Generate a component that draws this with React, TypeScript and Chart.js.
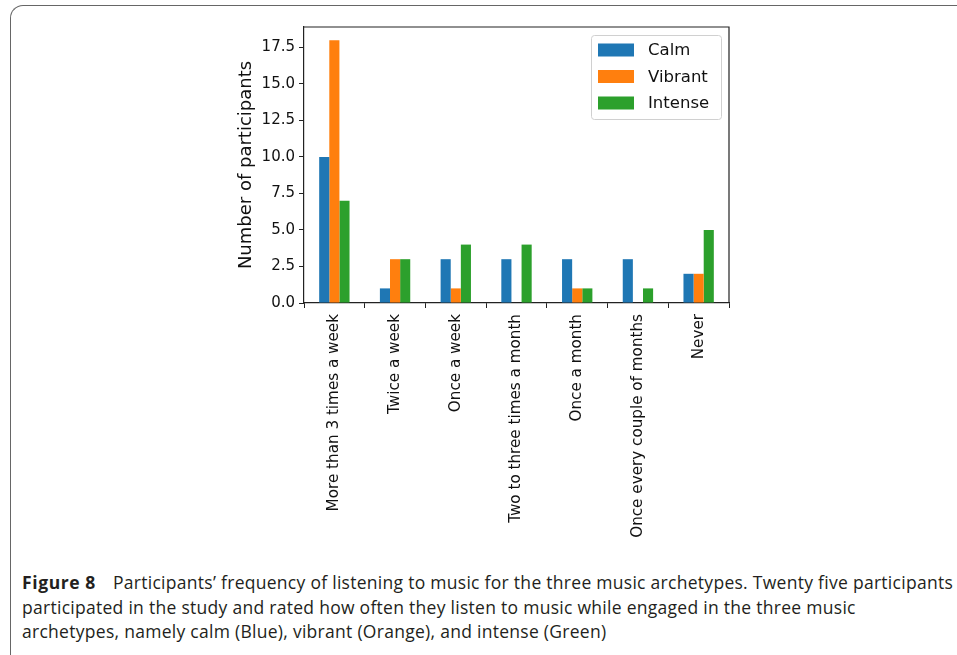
import React, { useEffect, useRef } from "react";
import { Chart, registerables } from "chart.js";

Chart.register(...registerables);

const CATEGORIES = [
  "More than 3 times a week",
  "Twice a week",
  "Once a week",
  "Two to three times a month",
  "Once a month",
  "Once every couple of months",
  "Never",
];
const CALM = [10, 1, 3, 3, 3, 3, 2];
const VIBRANT = [18, 3, 1, 0, 1, 0, 2];
const INTENSE = [7, 3, 4, 4, 1, 1, 5];
const SERIES_NAMES = ["Calm", "Vibrant", "Intense"];
const SERIES_COLORS = ["#1f77b4", "#ff7f0e", "#2ca02c"];
const Y_TICKS = [0, 2.5, 5, 7.5, 10, 12.5, 15, 17.5];
const Y_MAX = 18.9;
const Y_TITLE = "Number of participants";

const FONT = "'DejaVu Sans', sans-serif";

// Closes the axes box on the top and right sides.
const boxPlugin = {
  id: "axesBox",
  afterDraw(chart: any) {
    const { ctx, chartArea: a } = chart;
    ctx.save();
    ctx.strokeStyle = "#222";
    ctx.lineWidth = 1.2;
    ctx.beginPath();
    ctx.moveTo(a.left, a.top);
    ctx.lineTo(a.right, a.top);
    ctx.lineTo(a.right, a.bottom);
    ctx.stroke();
    ctx.restore();
  },
};

// Legend box in the upper right corner of the axes.
const legendPlugin = {
  id: "cornerLegend",
  afterDraw(chart: any) {
    const { ctx, chartArea: a } = chart;
    const w = 130;
    const h = 84;
    const x = a.right - 8 - w;
    const y = a.top + 8;
    ctx.save();
    ctx.fillStyle = "rgba(255,255,255,0.85)";
    ctx.strokeStyle = "#d0d0d0";
    ctx.lineWidth = 1;
    ctx.beginPath();
    ctx.roundRect(x + 0.5, y + 0.5, w, h, 3);
    ctx.fill();
    ctx.stroke();
    ctx.font = `16.5px ${FONT}`;
    ctx.textBaseline = "middle";
    ctx.textAlign = "left";
    chart.data.datasets.forEach((ds: any, i: number) => {
      const cy = y + 15 + i * 26.5;
      ctx.fillStyle = ds.backgroundColor;
      ctx.fillRect(x + 7, cy - 6.5, 36, 13);
      ctx.fillStyle = "#111";
      ctx.fillText(ds.label, x + 57, cy + 1);
    });
    ctx.restore();
  },
};

function BarChart() {
  const ref = useRef<HTMLCanvasElement>(null);
  useEffect(() => {
    const values = [CALM, VIBRANT, INTENSE];
    const chart = new Chart(ref.current as HTMLCanvasElement, {
      type: "bar",
      data: {
        labels: CATEGORIES,
        datasets: values.map((v, i) => ({
          label: SERIES_NAMES[i],
          data: v,
          backgroundColor: SERIES_COLORS[i],
          borderWidth: 0,
          categoryPercentage: 0.5,
          barPercentage: 1,
        })),
      },
      options: {
        animation: false,
        responsive: false,
        layout: { padding: { left: 224, right: 228, top: 27, bottom: 17 } },
        plugins: { legend: { display: false }, tooltip: { enabled: false } },
        scales: {
          x: {
            grid: { drawOnChartArea: false, drawTicks: true, tickLength: 5, color: "#222" },
            border: { display: true, color: "#222", width: 1.2 },
            ticks: {
              maxRotation: 90,
              minRotation: 90,
              padding: 6,
              color: "#111",
              font: { family: FONT, size: 15.2 },
              autoSkip: false,
            },
            afterFit(scale: any) {
              scale.height = 240;
            },
          },
          y: {
            min: 0,
            max: Y_MAX,
            grid: { drawOnChartArea: false, drawTicks: true, tickLength: 5, color: "#222" },
            border: { display: true, color: "#222", width: 1.2 },
            ticks: {
              padding: 4,
              color: "#111",
              font: { family: FONT, size: 15 },
              callback: (v: any) => Number(v).toFixed(1),
            },
            afterBuildTicks(scale: any) {
              scale.ticks = Y_TICKS.map((v) => ({ value: v }));
            },
            afterFit(scale: any) {
              scale.width = 80;
            },
            title: {
              display: true,
              text: Y_TITLE,
              color: "#111",
              font: { family: FONT, size: 18 },
              padding: { top: 12, bottom: 0 },
            },
          },
        },
      },
      plugins: [boxPlugin, legendPlugin],
    });
    return () => chart.destroy();
  }, []);
  return (
    <canvas
      ref={ref}
      width={957}
      height={560}
      style={{ position: "absolute", left: 0, top: 0, width: 957, height: 560 }}
    />
  );
}

export default function App() {
  const captionFont = "'Open Sans', 'Noto Sans', sans-serif";
  return (
    <div
      style={{
        position: "fixed",
        left: 0,
        top: 0,
        width: 957,
        height: 655,
        overflow: "hidden",
        background: "#fff",
      }}
    >
      <div
        style={{
          position: "absolute",
          left: 10,
          top: 5,
          width: 1000,
          height: 700,
          borderLeft: "1.5px solid #666",
          borderTop: "1.5px solid #666",
          borderTopLeftRadius: 13,
        }}
      />
      <BarChart />
      <div
        style={{
          position: "absolute",
          left: 22,
          top: 570,
          width: 940,
          fontFamily: captionFont,
          fontSize: 17.5,
          lineHeight: "24.5px",
          color: "#231f20",
          letterSpacing: 0.28,
          whiteSpace: "nowrap",
        }}
      >
        <div>
          <b style={{ fontWeight: 700, display: "inline-block", width: 91, letterSpacing: 0.6 }}>
            Figure 8
          </b>
          {"Participants\u2019 frequency of listening to music for the three music archetypes. Twenty five participants"}
        </div>
        <div>
          participated in the study and rated how often they listen to music while engaged in the three music
        </div>
        <div>archetypes, namely calm (Blue), vibrant (Orange), and intense (Green)</div>
      </div>
    </div>
  );
}
